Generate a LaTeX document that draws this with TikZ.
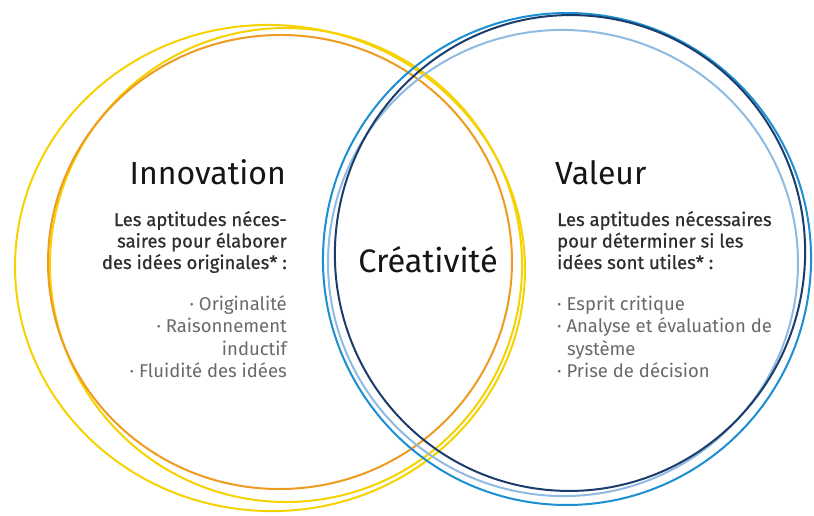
\documentclass[tikz,border=0pt]{standalone}
\usepackage{fontspec}
\setmainfont{Fira Sans}
\newfontfamily\medfont[FakeBold=0.7]{Fira Sans}
\definecolor{cyel}{HTML}{F6D200}
\definecolor{cora}{HTML}{EE9B20}
\definecolor{cblu}{HTML}{1B8FD2}
\definecolor{cnav}{HTML}{1C3D6B}
\definecolor{clbl}{HTML}{8FBBE3}
\definecolor{ctxt}{HTML}{151515}
\definecolor{cbod}{HTML}{2E2E2E}
\definecolor{clst}{HTML}{6A6A6A}
\begin{document}
\begin{tikzpicture}[x=1pt,y=-1pt,
  loop/.style={line width=2pt},
  ttl/.style={inner sep=0pt,text=ctxt,font=\fontsize{32}{35}\selectfont},
  bodyl/.style={inner sep=0pt,text=cbod,font=\medfont\fontsize{18.5}{22}\selectfont},
  listl/.style={inner sep=0pt,text=clst,font=\fontsize{18.5}{22}\selectfont}]
\useasboundingbox (0,0) rectangle (814,516);
\fill[white] (0,0) rectangle (814,516);
% left loops
\draw[loop,cyel] (270,268) ellipse[x radius=255,y radius=243,rotate=-4];
\draw[loop,cyel] (286,265) ellipse[x radius=236,y radius=237,rotate=6];
\draw[loop,cora] (280,262) ellipse[x radius=232,y radius=227,rotate=3];
% right loops
\draw[loop,clbl] (563,263) ellipse[x radius=235,y radius=233,rotate=-8];
\draw[loop,cblu] (567,259) ellipse[x radius=244,y radius=246,rotate=-6];
\draw[loop,cnav] (570,253) ellipse[x radius=235,y radius=238,rotate=-10];
% texts
\node[ttl,anchor=base east] (inno) at (286,185) {Innovation};
\node[ttl,anchor=base west] (val) at (555,185) {Valeur};
\node[ttl,anchor=base,font=\fontsize{32.5}{36}\selectfont] (crea) at (428,272) {Créativité};
\node[bodyl,anchor=base east] (lb1) at (287,226) {Les aptitudes néces-};
\node[bodyl,anchor=base east] (lb2) at (287,247.5) {saires pour élaborer};
\node[bodyl,anchor=base east] (lb3) at (287,269) {des idées originales* :};
\node[listl,anchor=base east] (ll1) at (287,310) {· Originalité};
\node[listl,anchor=base east] (ll2) at (287,332.5) {· Raisonnement};
\node[listl,anchor=base east] (ll3) at (287,355) {inductif};
\node[listl,anchor=base east] (ll4) at (287,377.5) {· Fluidité des idées};
\node[bodyl,anchor=base west] (rb1) at (557,226) {Les aptitudes nécessaires};
\node[bodyl,anchor=base west] (rb2) at (557,247.5) {pour déterminer si les};
\node[bodyl,anchor=base west] (rb3) at (557,269) {idées sont utiles* :};
\node[listl,anchor=base west] (rl1) at (557,310) {· Esprit critique};
\node[listl,anchor=base west] (rl2) at (557,332.5) {· Analyse et évaluation de};
\node[listl,anchor=base west] (rl3) at (567,355) {système};
\node[listl,anchor=base west] (rl4) at (557,377.5) {· Prise de décision};
\end{tikzpicture}
\end{document}
